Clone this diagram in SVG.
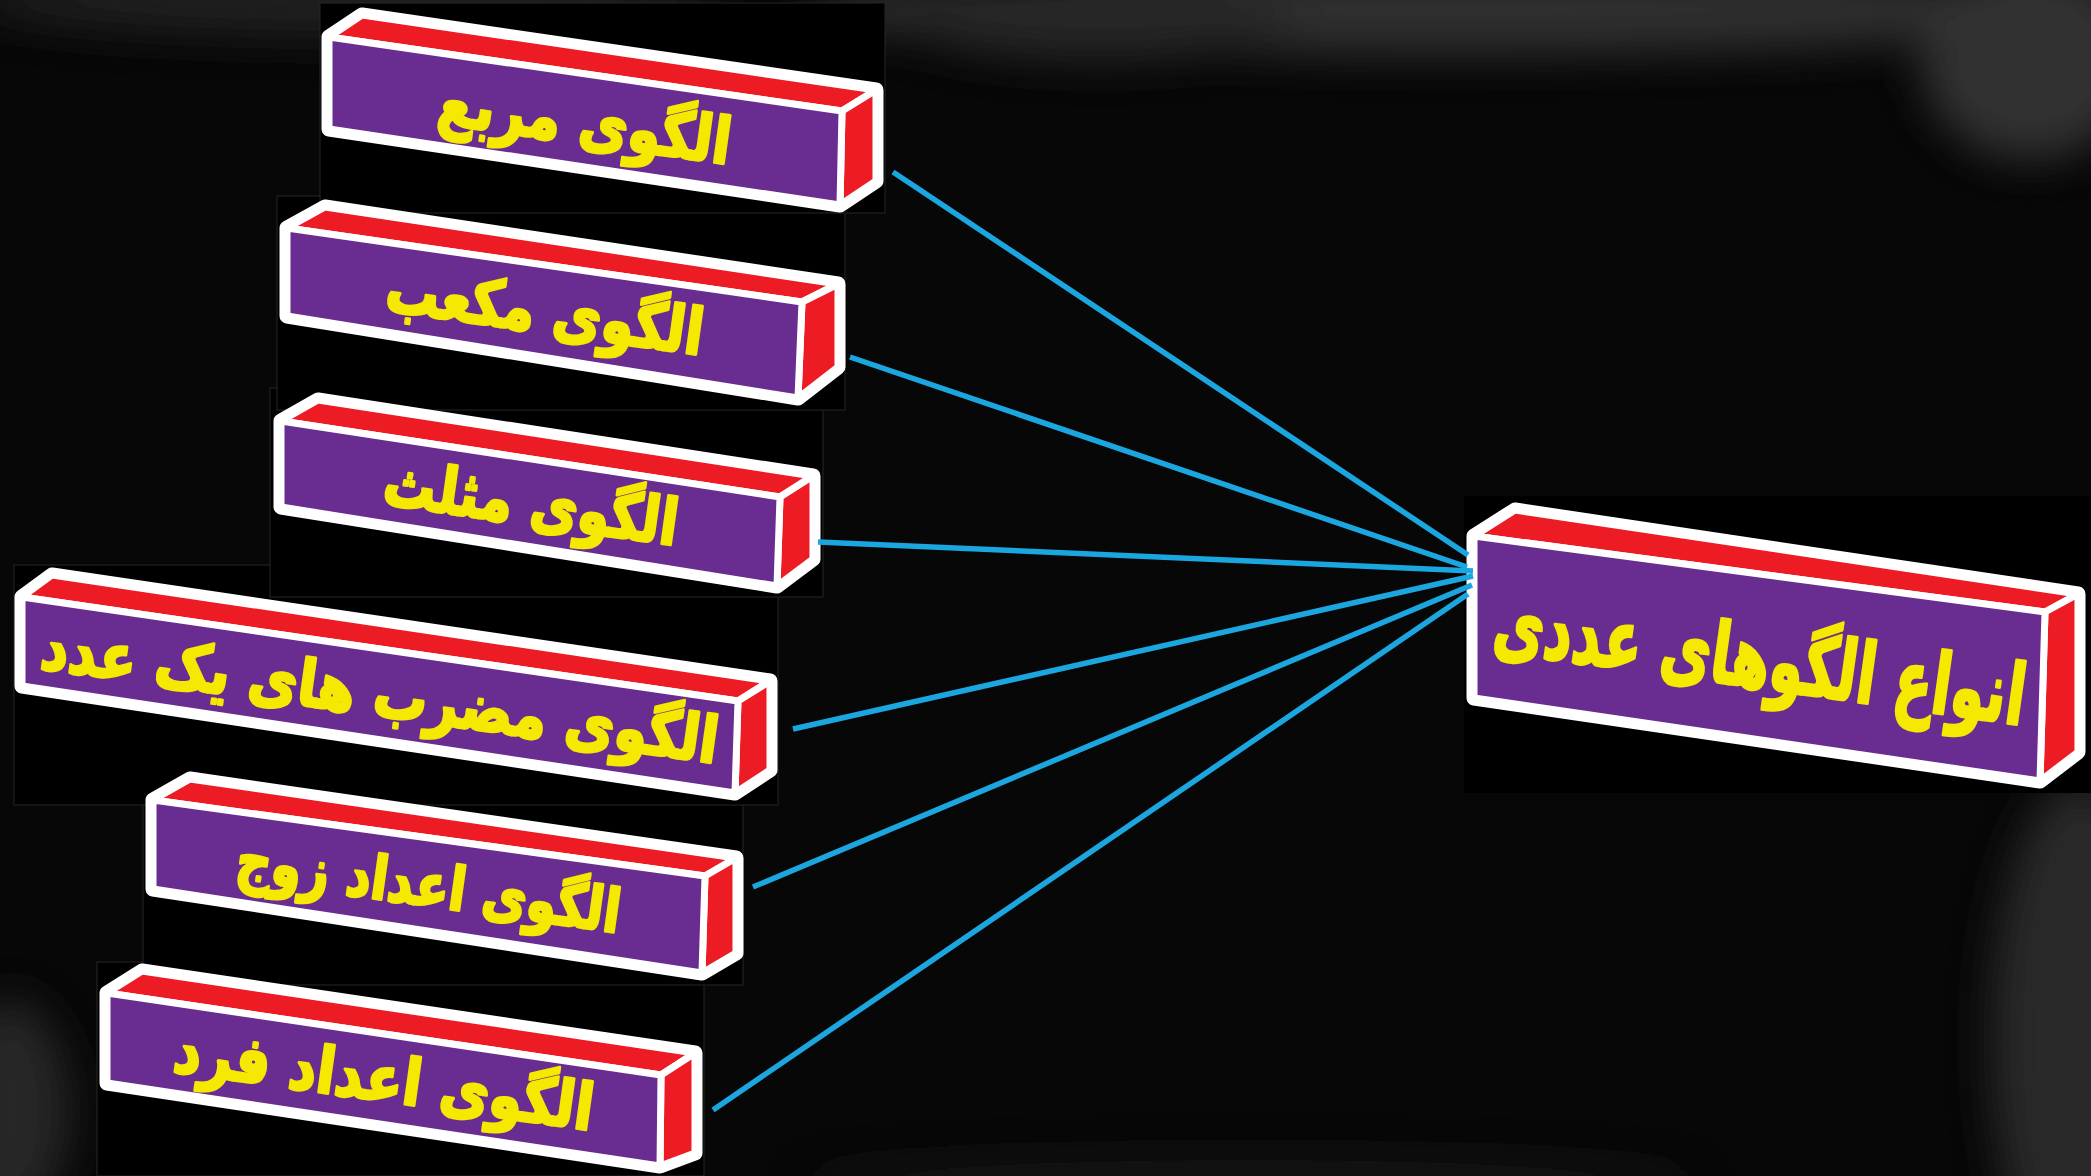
<svg xmlns="http://www.w3.org/2000/svg" width="2091" height="1176" viewBox="0 0 2091 1176">
<defs>
<style>
.sil{fill:#fff;stroke:#fff;stroke-width:15;stroke-linejoin:round}
.red{fill:#ed1c24;stroke:#fff;stroke-width:7;stroke-linejoin:round}
.front{fill:#692c91;stroke:#fff;stroke-width:7;stroke-linejoin:round}
.frame{fill:#000;stroke:#262626;stroke-width:1}
.lbl{font-family:"DejaVu Sans",sans-serif;font-weight:bold;fill:#f6e900;stroke:#f6e900;stroke-width:3;stroke-linejoin:round;text-anchor:middle}
.con{stroke:#1ba6df;stroke-width:5.5;stroke-linecap:butt;fill:none}
</style>
<filter id="blur" x="-50%" y="-50%" width="200%" height="200%"><feGaussianBlur stdDeviation="22"/></filter>
</defs>
<rect x="0" y="0" width="2091" height="1176" fill="#070707"/>
<g id="texture" filter="url(#blur)" opacity="0.75">
<ellipse cx="1450" cy="10" rx="650" ry="45" fill="#3c3c3c"/>
<ellipse cx="1100" cy="20" rx="200" ry="40" fill="#333"/>
<ellipse cx="350" cy="0" rx="380" ry="35" fill="#2c2c2c"/>
<ellipse cx="2030" cy="60" rx="110" ry="100" fill="#404040"/>
<ellipse cx="2080" cy="1040" rx="90" ry="260" fill="#353535"/>
<ellipse cx="10" cy="1110" rx="60" ry="110" fill="#303030"/>
<ellipse cx="1250" cy="1185" rx="450" ry="25" fill="#1e1e1e"/>
</g>

<g id="frames">
<rect class="frame" x="97" y="962" width="607" height="214"/>
<rect class="frame" x="143" y="770" width="600" height="215"/>
<rect class="frame" x="14" y="565" width="764" height="240"/>
<rect class="frame" x="270" y="388" width="553" height="209"/>
<rect class="frame" x="277" y="196" width="568" height="214"/>
<rect class="frame" x="320" y="3" width="565" height="210"/>
<rect x="1464" y="496" width="627" height="297" fill="#000"/>
</g>

<g id="node-fard">
<polygon class="sil" points="107,993 142,971 695,1053 695,1153 660,1166 107,1083"/>
<polygon class="red" points="107,993 142,971 695,1053 661,1075"/>
<polygon class="red" points="661,1075 695,1053 695,1153 660,1166"/>
<polygon class="front" points="107,993 661,1075 660,1166 107,1083"/>
<text class="lbl" x="384" y="1101" font-size="64" transform="rotate(8 384 1079)" textLength="423" lengthAdjust="spacingAndGlyphs">الگوی اعداد فرد</text>
</g>

<g id="node-zoj">
<polygon class="sil" points="153,800 190,779 736,858 736,953 702,973 153,889"/>
<polygon class="red" points="153,800 190,779 736,858 705,876"/>
<polygon class="red" points="705,876 736,858 736,953 702,973"/>
<polygon class="front" points="153,800 705,876 702,973 153,889"/>
<text class="lbl" x="429" y="906" font-size="60" transform="rotate(8 429 884)" textLength="387" lengthAdjust="spacingAndGlyphs">الگوی اعداد زوج</text>
</g>

<g id="node-mazrab">
<polygon class="sil" points="22,597 52,575 770,681 770,770 735,793 22,686"/>
<polygon class="red" points="22,597 52,575 770,681 738,701"/>
<polygon class="red" points="738,701 770,681 770,770 735,793"/>
<polygon class="front" points="22,597 738,701 735,793 22,686"/>
<text class="lbl" x="380" y="716" font-size="64" transform="rotate(8 380 694)" textLength="683" lengthAdjust="spacingAndGlyphs">الگوی مضرب های یک عدد</text>
</g>

<g id="node-mosalas">
<polygon class="sil" points="281,421 318,400 813,476 813,559 777,586 281,507"/>
<polygon class="red" points="281,421 318,400 813,476 780,497"/>
<polygon class="red" points="780,497 813,476 813,559 777,586"/>
<polygon class="front" points="281,421 780,497 777,586 281,507"/>
<text class="lbl" x="531" y="525" font-size="64" transform="rotate(8 531 503)" textLength="297" lengthAdjust="spacingAndGlyphs">الگوی مثلث</text>
</g>

<g id="node-moka">
<polygon class="sil" points="287,228 325,207 838,284 838,367 798,398 287,316"/>
<polygon class="red" points="287,228 325,207 838,284 802,302"/>
<polygon class="red" points="802,302 838,284 838,367 798,398"/>
<polygon class="front" points="287,228 802,302 798,398 287,316"/>
<text class="lbl" x="545" y="333" font-size="64" transform="rotate(8 545 311)" textLength="320" lengthAdjust="spacingAndGlyphs">الگوی مکعب</text>
</g>

<g id="node-morabba">
<polygon class="sil" points="329,37 362,15 876,90 876,181 840,205 329,129"/>
<polygon class="red" points="329,37 362,15 876,90 842,111"/>
<polygon class="red" points="842,111 876,90 876,181 840,205"/>
<polygon class="front" points="329,37 842,111 840,205 329,129"/>
<text class="lbl" x="585" y="144" font-size="64" transform="rotate(8 585 122)" textLength="295" lengthAdjust="spacingAndGlyphs">الگوی مربع</text>
</g>

<g id="node-main">
<polygon class="sil" points="1474,536 1515,510 2078,594 2078,752 2040,781 1474,698"/>
<polygon class="red" points="1474,536 1515,510 2078,594 2045,612"/>
<polygon class="red" points="2045,612 2078,594 2078,752 2040,781"/>
<polygon class="front" points="1474,536 2045,612 2040,781 1474,698"/>
<text class="lbl" x="1760" y="688" font-size="84" transform="rotate(8 1760 660)" textLength="536" lengthAdjust="spacingAndGlyphs">انواع الگوهای عددی</text>
</g>

<g id="connectors">
<line class="con" x1="893" y1="172" x2="1468" y2="555"/>
<line class="con" x1="850" y1="357" x2="1467" y2="567"/>
<line class="con" x1="818" y1="542" x2="1473" y2="571"/>
<line class="con" x1="793" y1="729" x2="1473" y2="576"/>
<line class="con" x1="753" y1="887" x2="1472" y2="585"/>
<line class="con" x1="713" y1="1110" x2="1468" y2="594"/>
</g>
</svg>
